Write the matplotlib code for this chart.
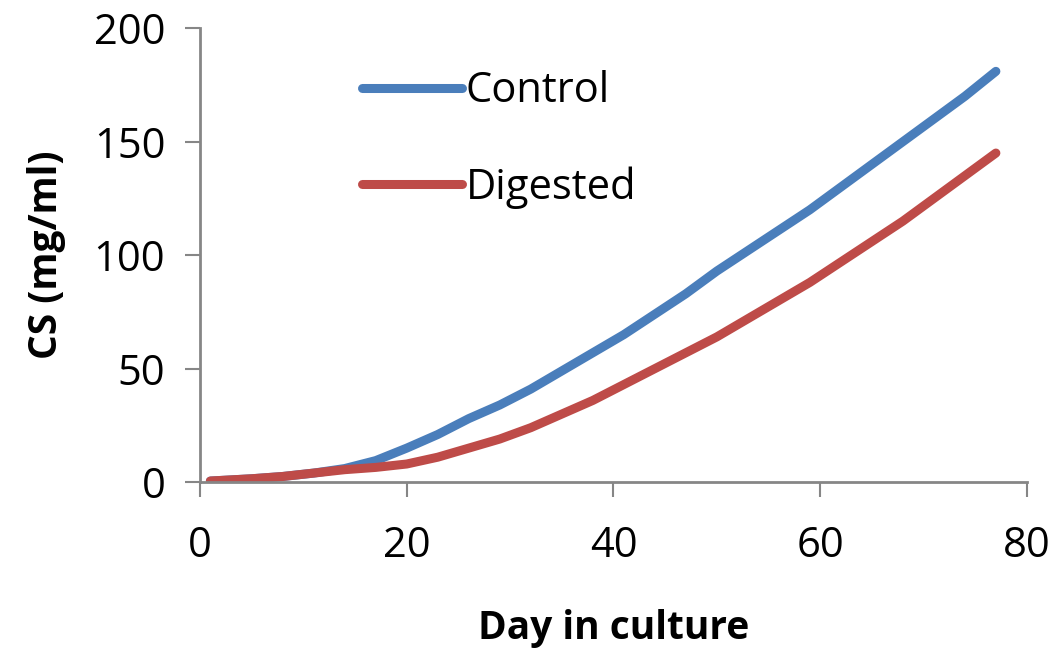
import matplotlib
matplotlib.use("Agg")
import matplotlib.pyplot as plt

plt.rcParams['font.family'] = ['Open Sans', 'DejaVu Sans']

days = [1, 5, 8, 11, 14, 17, 20, 23, 26, 29, 32, 35, 38, 41, 44, 47,
        50, 53, 56, 59, 62, 65, 68, 71, 74, 77]
control = [0.5, 1.5, 2.5, 4, 6, 9.5, 15, 21, 28, 34, 41, 49, 57, 65, 74, 83,
           93, 102, 111, 120, 130, 140, 150, 160, 170, 181]
digested = [0.5, 1.5, 2.5, 4, 5.5, 6.5, 8, 11, 15, 19, 24, 30, 36, 43, 50, 57,
            64, 72, 80, 88, 97, 106, 115, 125, 135, 145]

x_ticks = [0, 20, 40, 60, 80]
y_ticks = [0, 50, 100, 150, 200]

fig = plt.figure(figsize=(10.5, 6.56), dpi=100)
ax = fig.add_axes([0.1905, 0.265, 0.7875, 0.692])

ax.plot(days, control, color='#4A7EBB', lw=6.5, solid_capstyle='round', label='Control')
ax.plot(days, digested, color='#BE4B48', lw=6.5, solid_capstyle='round', label='Digested')

ax.set_xlim(0, 80)
ax.set_ylim(0, 200)
ax.set_xticks(x_ticks)
ax.set_yticks(y_ticks)

for s in ['top', 'right']:
    ax.spines[s].set_visible(False)
for s in ['left', 'bottom']:
    ax.spines[s].set_color('#868686')
    ax.spines[s].set_linewidth(2)
ax.tick_params(axis='both', direction='out', length=11, width=1.5,
               color='#868686', labelsize=30)
ax.tick_params(axis='x', pad=20)
ax.tick_params(axis='y', pad=14)

ax.set_xlabel('Day in culture', fontsize=28, fontweight='bold', labelpad=30)
ax.set_ylabel('CS (mg/ml)', fontsize=28, fontweight='bold', labelpad=20)

leg = ax.legend(loc='upper left', bbox_to_anchor=(0.15, 0.99), frameon=False,
                fontsize=30, handlelength=2.4, handletextpad=0.1, labelspacing=1.3)

fig.savefig('out.png', dpi=100)
